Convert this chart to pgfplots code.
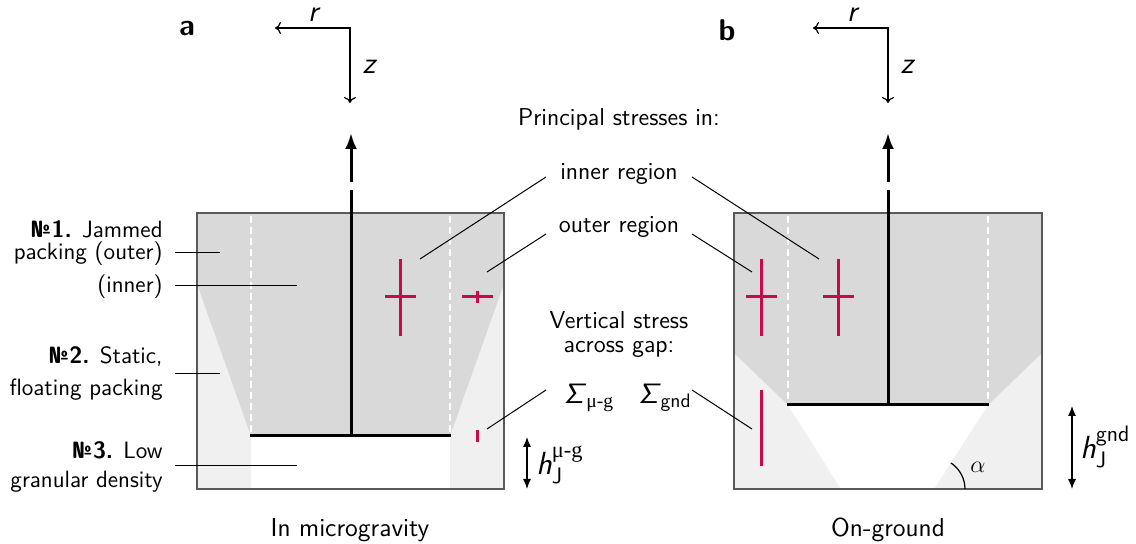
\documentclass[border=0pt]{standalone}
\usepackage{fontspec}
\usepackage{amsmath}
\usepackage{pgfplots}
\pgfplotsset{compat=1.18}
\usetikzlibrary{arrows.meta}
\newfontfamily\libserif{Liberation Serif}
\definecolor{darkg}{HTML}{D9D9D9}
\definecolor{lightg}{HTML}{F0F0F0}
\definecolor{boxg}{HTML}{5A5A5A}
\definecolor{sred}{RGB}{200,10,75}
\newcommand\fs[1]{\fontsize{#1}{#1}\selectfont}
\begin{document}
\begin{tikzpicture}[every node/.append style={font=\sffamily\fs{11.8}, inner sep=0pt}]
\begin{axis}[x=0.5pt, y=0.5pt, y dir=reverse,
  xmin=0, xmax=1136, ymin=0, ymax=544,
  hide axis, clip=false]
% bounding frame (invisible)
\addplot[draw=none] coordinates {(0,0) (1136,544)};
% ===== Panel a =====
\addplot[fill=lightg, draw=none] coordinates {(197,213) (504,213) (504,489) (197,489)};
\addplot[fill=darkg, draw=none] coordinates {(197,213) (504,213) (504,284) (450,436) (251,436) (197,284)};
\addplot[fill=white, draw=none] coordinates {(251,436) (450,436) (450,489) (251,489)};
\addplot[boxg, line width=0.75pt, line cap=rect] coordinates {(197,213) (504,213) (504,489) (197,489) (197,213)};
\addplot[white, line width=1pt, dash pattern=on 3.5pt off 2pt] coordinates {(251,216) (251,436)};
\addplot[white, line width=1pt, dash pattern=on 3.5pt off 2pt] coordinates {(450,216) (450,436)};
\addplot[black, line width=1.5pt] coordinates {(351,436) (351,190)};
\addplot[black, line width=1.5pt, -{Latex[length=8pt,width=6pt]}] coordinates {(351,182) (351,133)};
\addplot[black, line width=1.5pt] coordinates {(250,436) (451,436)};
% stresses a
\addplot[sred, line width=1.5pt] coordinates {(400,259) (400,336)};
\addplot[sred, line width=1.5pt] coordinates {(385,297) (416,297)};
\addplot[sred, line width=1.5pt] coordinates {(462,297) (493,297)};
\addplot[sred, line width=1.5pt] coordinates {(477,291) (477,303)};
\addplot[sred, line width=1.5pt] coordinates {(477,430) (477,442)};
% coordinate arrows a
\addplot[black, line width=0.6pt, {To[length=3pt,width=6pt]}-{To[length=3pt,width=6pt]}] coordinates {(275,28) (350,28) (350,103)};
% h arrow a
\addplot[black, line width=0.6pt, {Latex[length=5pt,width=4pt]}-{Latex[length=5pt,width=4pt]}] coordinates {(527,437) (527,489)};
% ===== Panel b =====
\addplot[fill=lightg, draw=none] coordinates {(734,213) (1042,213) (1042,489) (734,489)};
\addplot[fill=darkg, draw=none] coordinates {(734,213) (1042,213) (1042,353) (988,405) (788,405) (734,353)};
\addplot[fill=white, draw=none] coordinates {(788,405) (988,405) (934,489) (841,489)};
\addplot[boxg, line width=0.75pt, line cap=rect] coordinates {(734,213) (1042,213) (1042,489) (734,489) (734,213)};
\addplot[white, line width=1pt, dash pattern=on 3.5pt off 2pt] coordinates {(788,216) (788,405)};
\addplot[white, line width=1pt, dash pattern=on 3.5pt off 2pt] coordinates {(988,216) (988,405)};
\addplot[black, line width=1.5pt] coordinates {(888,405) (888,190)};
\addplot[black, line width=1.5pt, -{Latex[length=8pt,width=6pt]}] coordinates {(888,182) (888,133)};
\addplot[black, line width=1.5pt] coordinates {(787,405) (989,405)};
% stresses b
\addplot[sred, line width=1.5pt] coordinates {(761,259) (761,336)};
\addplot[sred, line width=1.5pt] coordinates {(746,297) (777,297)};
\addplot[sred, line width=1.5pt] coordinates {(838,259) (838,336)};
\addplot[sred, line width=1.5pt] coordinates {(823,297) (854,297)};
\addplot[sred, line width=1.5pt] coordinates {(761,390) (761,466)};
% alpha arc
\addplot[black, line width=0.6pt, smooth] coordinates {(965,489) (964.5,483.6) (963.1,478.4) (960.8,473.5) (957.7,469.1) (953.9,465.2) (950.9,463.0)};
% coordinate arrows b
\addplot[black, line width=0.6pt, {To[length=3pt,width=6pt]}-{To[length=3pt,width=6pt]}] coordinates {(813,28) (888,28) (888,103)};
% h arrow b
\addplot[black, line width=0.6pt, {Latex[length=5pt,width=4pt]}-{Latex[length=5pt,width=4pt]}] coordinates {(1072,406) (1072,489)};
% ===== leader lines =====
\addplot[black, line width=0.5pt] coordinates {(175,253) (220,253)};
\addplot[black, line width=0.5pt] coordinates {(175,286) (297,286)};
\addplot[black, line width=0.5pt] coordinates {(175,374) (220,374)};
\addplot[black, line width=0.5pt] coordinates {(175,466) (297,466)};
\addplot[black, line width=0.5pt] coordinates {(546,177) (420,259)};
\addplot[black, line width=0.5pt] coordinates {(546,234) (487,272)};
\addplot[black, line width=0.5pt] coordinates {(546,390) (487,429)};
\addplot[black, line width=0.5pt] coordinates {(692,177) (819,259)};
\addplot[black, line width=0.5pt] coordinates {(692,234) (752,272)};
\addplot[black, line width=0.5pt] coordinates {(692,390) (752,429)};
% ===== text =====
\node[font=\sffamily\bfseries\fs{15}] at (axis cs:187,29) {a};
\node[font=\sffamily\bfseries\fs{15}] at (axis cs:727,30) {b};
\node[font=\sffamily\itshape\fs{15}] at (axis cs:313,15) {r};
\node[font=\sffamily\itshape\fs{15}] at (axis cs:369,67) {z};
\node[font=\sffamily\itshape\fs{15}] at (axis cs:852,15) {r};
\node[font=\sffamily\itshape\fs{15}] at (axis cs:907,67) {z};
\node[font=\sffamily\fs{12.2}] at (axis cs:619,119) {Principal stresses in:};
\node[font=\sffamily\fs{12.2}] at (axis cs:619,174) {inner region};
\node[font=\sffamily\fs{12.2}] at (axis cs:619,227) {outer region};
\node[font=\sffamily\fs{12.2}] at (axis cs:619,320) {Vertical stress};
\node[font=\sffamily\fs{12.2}] at (axis cs:619,349) {across gap:};
\node[font=\sffamily\fs{14}] at (axis cs:589,398) {\textit{Σ}\textsubscript{\libserif μ-g}};
\node[font=\sffamily\fs{14}] at (axis cs:665,398) {\textit{Σ}\textsubscript{gnd}};
\node[anchor=west, font=\sffamily\fs{16}] at (axis cs:536,465) {$\text{\itshape h}^{\text{\libserif μ-g}}_{\text{J}}$};
\node[anchor=west, font=\sffamily\fs{16}] at (axis cs:1080,447) {$\text{\itshape h}^{\text{gnd}}_{\text{J}}$};
\node[font=\fs{13}] at (axis cs:978,467) {$\alpha$};
\node[anchor=east] at (axis cs:163,229) {\textbf{№1.} Jammed};
\node[anchor=east] at (axis cs:163,254) {packing (outer)};
\node[anchor=east] at (axis cs:163,287) {(inner)};
\node[anchor=east] at (axis cs:163,357) {\textbf{№2.} Static,};
\node[anchor=east] at (axis cs:163,390) {floating packing};
\node[anchor=east] at (axis cs:163,450) {\textbf{№3.} Low};
\node[anchor=east] at (axis cs:163,482) {granular density};
\node[font=\sffamily\fs{13}] at (axis cs:350,530) {In microgravity};
\node[font=\sffamily\fs{13}] at (axis cs:888,530) {On-ground};
\end{axis}
\end{tikzpicture}
\end{document}
